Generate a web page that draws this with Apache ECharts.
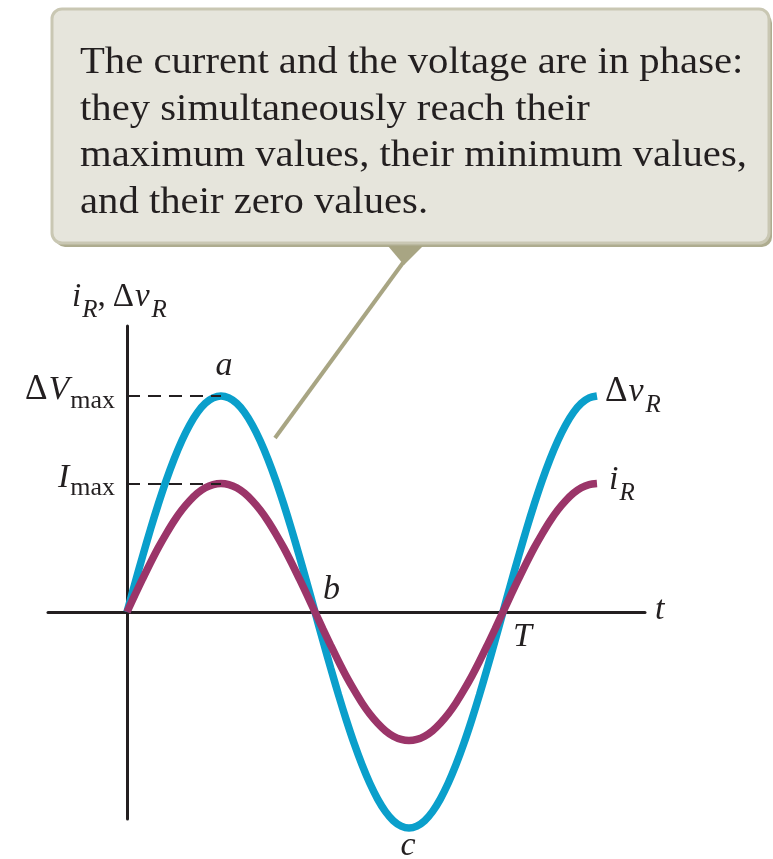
<!DOCTYPE html>
<html>
<head>
<meta charset="utf-8">
<script src="https://cdn.jsdelivr.net/npm/echarts@6/dist/echarts.min.js"></script>
<style>
  html, body { margin: 0; padding: 0; background: #ffffff; }
  #chart { width: 773px; height: 859px; }
</style>
</head>
<body>
<div id="chart"></div>
<script>
// Time in units of the period T (sampled every T/48)
const timeT = [0, 0.0208, 0.0417, 0.0625, 0.0833, 0.1042, 0.125, 0.1458, 0.1667, 0.1875, 0.2083, 0.2292,
  0.25, 0.2708, 0.2917, 0.3125, 0.3333, 0.3542, 0.375, 0.3958, 0.4167, 0.4375, 0.4583, 0.4792,
  0.5, 0.5208, 0.5417, 0.5625, 0.5833, 0.6042, 0.625, 0.6458, 0.6667, 0.6875, 0.7083, 0.7292,
  0.75, 0.7708, 0.7917, 0.8125, 0.8333, 0.8542, 0.875, 0.8958, 0.9167, 0.9375, 0.9583, 0.9792,
  1, 1.0208, 1.0417, 1.0625, 1.0833, 1.1042, 1.125, 1.1458, 1.1667, 1.1875, 1.2083, 1.2292, 1.25];

// Voltage across the resistor, in units of ΔVmax
const voltageR = [0, 0.131, 0.259, 0.383, 0.5, 0.609, 0.707, 0.793, 0.866, 0.924, 0.966, 0.991,
  1, 0.991, 0.966, 0.924, 0.866, 0.793, 0.707, 0.609, 0.5, 0.383, 0.259, 0.131,
  0, -0.131, -0.259, -0.383, -0.5, -0.609, -0.707, -0.793, -0.866, -0.924, -0.966, -0.991,
  -1, -0.991, -0.966, -0.924, -0.866, -0.793, -0.707, -0.609, -0.5, -0.383, -0.259, -0.131,
  0, 0.131, 0.259, 0.383, 0.5, 0.609, 0.707, 0.793, 0.866, 0.924, 0.966, 0.991, 1];

// Current through the resistor, on the same vertical scale (peak = Imax)
const currentR = [0, 0.078, 0.154, 0.228, 0.298, 0.362, 0.421, 0.472, 0.515, 0.55, 0.575, 0.59,
  0.595, 0.59, 0.575, 0.55, 0.515, 0.472, 0.421, 0.362, 0.298, 0.228, 0.154, 0.078,
  0, -0.078, -0.154, -0.228, -0.298, -0.362, -0.421, -0.472, -0.515, -0.55, -0.575, -0.59,
  -0.595, -0.59, -0.575, -0.55, -0.515, -0.472, -0.421, -0.362, -0.298, -0.228, -0.154, -0.078,
  0, 0.078, 0.154, 0.228, 0.298, 0.362, 0.421, 0.472, 0.515, 0.55, 0.575, 0.59, 0.595];

const vMax = 1;
const iMax = 0.595;

// Callout text
const calloutLines = [
  'The current and the voltage are in phase:',
  'they simultaneously reach their',
  'maximum values, their minimum values,',
  'and their zero values.'
];

const INK = '#231f20';
const BLUE = '#0a9fcb';
const PLUM = '#9b3569';
const SERIF = '"Liberation Serif", "DejaVu Serif", serif';

const X_MIN = -0.2101, X_MAX = 1.3777;
const Y_MIN = -0.9583, Y_MAX = 1.3241;

const chart = echarts.init(document.getElementById('chart'), null, { renderer: 'canvas' });

const axisCommon = {
  type: 'value',
  axisLine: { show: true, onZero: true, lineStyle: { color: INK, width: 3 } },
  axisTick: { show: false },
  axisLabel: { show: false },
  splitLine: { show: false }
};

chart.setOption({
  animation: false,
  backgroundColor: '#ffffff',
  grid: { left: 48, right: 128, top: 326, bottom: 40, containLabel: false },
  xAxis: Object.assign({}, axisCommon, { min: X_MIN, max: X_MAX }),
  yAxis: Object.assign({}, axisCommon, { min: Y_MIN, max: Y_MAX }),
  series: [
    {
      name: 'voltage',
      type: 'line',
      data: timeT.map((t, i) => [t, voltageR[i]]),
      smooth: 0.3,
      clip: false,
      showSymbol: false,
      lineStyle: { color: BLUE, width: 7.5 },
      z: 3,
      markLine: {
        silent: true,
        symbol: ['none', 'none'],
        label: { show: false },
        lineStyle: { color: INK, width: 2, type: [13, 8] },
        data: [
          [{ coord: [0, vMax] }, { coord: [0.25, vMax] }],
          [{ coord: [0, iMax] }, { coord: [0.25, iMax] }]
        ]
      }
    },
    {
      name: 'current',
      type: 'line',
      data: timeT.map((t, i) => [t, currentR[i]]),
      smooth: 0.3,
      clip: false,
      showSymbol: false,
      lineStyle: { color: PLUM, width: 7.5 },
      z: 4
    }
  ]
});

// ---- math-style labels built from pieces (main glyphs + subscripts) ----
const measureCtx = document.createElement('canvas').getContext('2d');
function textWidth(font, s) { measureCtx.font = font; return measureCtx.measureText(s).width; }

const F_IT = 'italic 34px ' + SERIF;
const F_UP = '35px ' + SERIF;
const F_SUB = '26px ' + SERIF;
const F_SUBIT = 'italic 25px ' + SERIF;
const F_T_IT = 'italic 33px ' + SERIF;
const F_T_UP = '33px ' + SERIF;
const F_T_SUB = 'italic 25px ' + SERIF;

function pieceSize(font) { return parseFloat(font.match(/(\d+(?:\.\d+)?)px/)[1]); }
// pieces: [{t, font, dy, gap}] drawn left to right from (x, baseline)
function mathText(x, baseline, pieces, align) {
  let total = 0;
  pieces.forEach(p => { total += textWidth(p.font, p.t) + (p.gap || 0); });
  let cx = align === 'right' ? x - total : align === 'center' ? x - total / 2 : x;
  const out = [];
  pieces.forEach(p => {
    const size = pieceSize(p.font);
    out.push({
      type: 'text',
      silent: true,
      z: 20,
      x: cx,
      y: baseline + (p.dy || 0) - 0.34 * size,
      style: { text: p.t, font: p.font, fill: INK, textVerticalAlign: 'middle', verticalAlign: 'middle' }
    });
    cx += textWidth(p.font, p.t) + (p.gap || 0);
  });
  return out;
}

function px(pt) { return chart.convertToPixel({ gridIndex: 0 }, pt); }

const originTop = px([0, Y_MAX]);
const pV = px([0, vMax]);
const pI = px([0, iMax]);
const pA = px([0.25, vMax]);
const pB = px([0.5, 0]);
const pC = px([0.75, -vMax]);
const pT = px([1, 0]);
const pEnd = px([X_MAX, 0]);
const pVEnd = px([1.25, vMax]);
const pIEnd = px([1.25, iMax]);

let labels = [];
labels = labels.concat(mathText(originTop[0] - 55, originTop[1] - 17, [
  { t: 'i', font: F_T_IT, gap: 1 },
  { t: 'R', font: F_T_SUB, dy: 10 },
  { t: ',', font: F_T_UP, gap: 7 },
  { t: '\u0394', font: F_T_UP, gap: 1 },
  { t: 'v', font: F_T_IT, gap: 2 },
  { t: 'R', font: F_T_SUB, dy: 10 }
]));
labels = labels.concat(mathText(pV[0] - 12, pV[1] + 6, [
  { t: '\u0394', font: F_UP, gap: 1 },
  { t: 'V', font: F_IT, gap: 1 },
  { t: 'max', font: F_SUB, dy: 8 }
], 'right'));
labels = labels.concat(mathText(pI[0] - 12, pI[1] + 6, [
  { t: 'I', font: F_IT, gap: 1 },
  { t: 'max', font: F_SUB, dy: 8 }
], 'right'));
labels = labels.concat(mathText(pA[0] + 3, pA[1] - 18, [{ t: 'a', font: F_IT }], 'center'));
labels = labels.concat(mathText(pB[0] + 8, pB[1] - 10, [{ t: 'b', font: F_IT }]));
labels = labels.concat(mathText(pC[0] - 1, pC[1] + 30, [{ t: 'c', font: F_IT }], 'center'));
labels = labels.concat(mathText(pT[0] + 10, pT[1] + 37, [{ t: 'T', font: F_IT }]));
labels = labels.concat(mathText(pEnd[0] + 10, pEnd[1] + 10, [{ t: 't', font: F_IT }]));
labels = labels.concat(mathText(pVEnd[0] + 8, pVEnd[1] + 8, [
  { t: '\u0394', font: F_UP, gap: 1 },
  { t: 'v', font: F_IT, gap: 2 },
  { t: 'R', font: F_SUBIT, dy: 10 }
]));
labels = labels.concat(mathText(pIEnd[0] + 12, pIEnd[1] + 8, [
  { t: 'i', font: F_IT, gap: 1 },
  { t: 'R', font: F_SUBIT, dy: 10 }
]));

// ---- callout box with pointer ----
const callout = [
  { type: 'rect', silent: true, z: 10, shape: { x: 55, y: 13, width: 717, height: 234, r: 10 },
    style: { fill: '#aeac8f' } },
  { type: 'rect', silent: true, z: 11, shape: { x: 52, y: 9, width: 717, height: 234, r: 10 },
    style: { fill: '#e6e5dc', stroke: '#c9c7b3', lineWidth: 3 } },
  { type: 'polygon', silent: true, z: 11, shape: { points: [[388, 246], [423, 246], [404, 265]] },
    style: { fill: '#a8a583' } },
  { type: 'line', silent: true, z: 11, shape: { x1: 405, y1: 260, x2: 275, y2: 438 },
    style: { stroke: '#a8a583', lineWidth: 4 } }
];
const CALLOUT_SIZE = 37;
calloutLines.forEach((s, k) => {
  callout.push({
    type: 'text', silent: true, z: 12,
    x: 80, y: 72 + k * 46.5 - 0.34 * CALLOUT_SIZE + 4,
    scaleX: 1.1,
    style: { text: s, font: CALLOUT_SIZE + 'px ' + SERIF, fill: INK, textVerticalAlign: 'middle', verticalAlign: 'middle' }
  });
});

chart.setOption({ graphic: { elements: callout.concat(labels) } });
</script>
</body>
</html>
